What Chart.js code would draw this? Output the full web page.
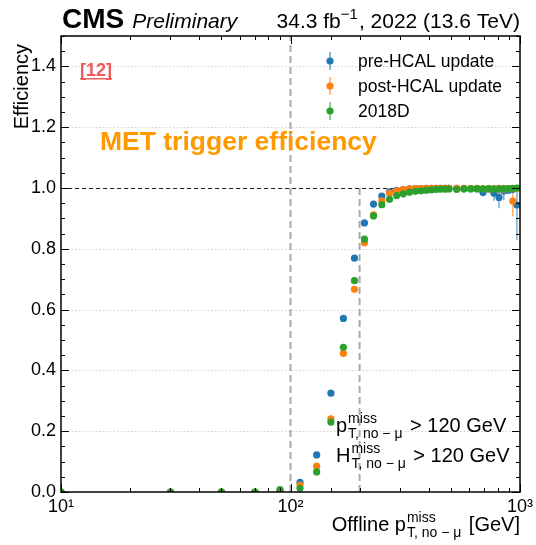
<!DOCTYPE html>
<html>
<head>
<meta charset="utf-8">
<script src="https://cdn.jsdelivr.net/npm/chart.js@4.4.0/dist/chart.umd.min.js"></script>
<style>
  html, body { margin: 0; padding: 0; background: #fff; }
  canvas { display: block; }
</style>
</head>
<body>
<canvas id="eff-chart" width="536" height="545"></canvas>
<script>
// bin centres in offline pT miss (GeV)
const ptBins = [10, 30, 50, 70, 90, 110, 130, 150, 170, 190, 210, 230, 250, 270, 290, 310, 330, 350, 370, 390,
    410, 430, 450, 470, 490, 530, 570, 610, 650, 690, 730, 770, 810, 850, 890, 930, 970];

const preHcal = [0, 0, 0, 0, 0.003, 0.032, 0.122, 0.325, 0.571, 0.769, 0.885, 0.947, 0.973, 0.987, 0.992, 0.995, 0.997, 0.998, 0.998, 0.999,
    0.999, 0.999, 0.999, 0.999, 0.999, 0.999, 0.998, 0.998, 0.997, 0.985, 0.997, 0.983, 0.969, 0.990, 0.993, 0.995, 0.944];
const postHcal = [0, 0, 0, 0, 0.003, 0.023, 0.085, 0.241, 0.456, 0.667, 0.820, 0.912, 0.958, 0.983, 0.991, 0.995, 0.997, 0.998, 0.998, 0.999,
    0.999, 0.999, 0.999, 0.999, 0.999, 0.999, 0.999, 0.998, 0.999, 0.998, 0.997, 0.998, 0.999, 0.996, 0.998, 0.957, 0.999];
const run2018D = [0, 0, 0, 0, 0.008, 0.012, 0.066, 0.230, 0.476, 0.695, 0.832, 0.908, 0.945, 0.963, 0.975, 0.981, 0.986, 0.989, 0.991, 0.993,
    0.994, 0.995, 0.996, 0.996, 0.997, 0.995, 0.997, 0.997, 0.998, 0.997, 0.998, 0.996, 0.997, 0.998, 0.998, 0.999, 1.000];

// visible error bars (only where they stick out of the markers)
const preErrBins = [690, 770, 810, 850, 970];
const preErrLow = [0.010, 0.025, 0.036, 0.030, 0.115];
const preErrHigh = [0.008, 0.012, 0.020, 0.008, 0.050];
const postErrBins = [810, 930];
const postErrLow = [0.020, 0.050];
const postErrHigh = [0.001, 0.030];

const seriesLabels = ['pre-HCAL update', 'post-HCAL update', '2018D'];
const seriesColors = ['#1f77b4', '#ff7f0e', '#2ca02c'];
const yTickStep = 0.05;
const yMajorStep = 0.2;

const FONT = '"Liberation Sans", Arial, Helvetica, sans-serif';
const MINUS = '\u2212';
const SUB = 'T, no ' + MINUS + ' \u03bc';

const toPoints = (vals) => ptBins.map((x, i) => ({ x, y: vals[i] }));
const isYMajor = (v) => Math.abs(v / yMajorStep - Math.round(v / yMajorStep)) < 1e-6;
const isXMajor = (v) => Math.abs(Math.log10(v) - Math.round(Math.log10(v))) < 1e-6;
const supDigits = { '0': '\u2070', '1': '\u00b9', '2': '\u00b2', '3': '\u00b3' };

// base + ^miss + _{T, no - mu} + tail, returns total width
const missLabel = (ctx, x, y, base, size, tail, draw) => {
    const small = Math.round(size * 0.7);
    ctx.font = `${size}px ${FONT}`;
    const wBase = ctx.measureText(base).width;
    const wTail = ctx.measureText(tail).width;
    ctx.font = `${small}px ${FONT}`;
    const wScript = Math.max(ctx.measureText('miss').width, ctx.measureText(SUB).width);
    if (draw) {
        ctx.font = `${size}px ${FONT}`;
        ctx.fillText(base, x, y);
        ctx.font = `${small}px ${FONT}`;
        ctx.fillText('miss', x + wBase + 1, y - size * 0.45);
        ctx.fillText(SUB, x + wBase + 1, y + size * 0.3);
        ctx.font = `${size}px ${FONT}`;
        ctx.fillText(tail, x + wBase + wScript + 3, y);
    }
    return wBase + wScript + 3 + wTail;
};

const errorBars = [
    { ds: 0, bins: preErrBins, lo: preErrLow, hi: preErrHigh },
    { ds: 1, bins: postErrBins, lo: postErrLow, hi: postErrHigh }
];

const decorPlugin = {
    id: 'decor',
    beforeDatasetsDraw(chart) {
        const { ctx, chartArea: a, scales: { x, y } } = chart;
        ctx.save();
        // dotted grid at major y ticks
        ctx.strokeStyle = '#c8c8c8';
        ctx.lineWidth = 0.8;
        ctx.setLineDash([1.5, 2]);
        y.ticks.forEach(t => {
            if (!isYMajor(t.value) || t.value === 0) return;
            const py = Math.round(y.getPixelForValue(t.value)) + 0.5;
            ctx.beginPath(); ctx.moveTo(a.left, py); ctx.lineTo(a.right, py); ctx.stroke();
        });
        // threshold lines
        ctx.strokeStyle = '#a9a9a9';
        ctx.lineWidth = 2;
        ctx.setLineDash([7, 4]);
        const x100 = x.getPixelForValue(100);
        ctx.beginPath(); ctx.moveTo(x100, a.bottom); ctx.lineTo(x100, a.top); ctx.stroke();
        const x200 = x.getPixelForValue(200);
        ctx.beginPath(); ctx.moveTo(x200, a.bottom); ctx.lineTo(x200, y.getPixelForValue(1)); ctx.stroke();
        // unity line
        ctx.strokeStyle = '#222';
        ctx.lineWidth = 1;
        ctx.setLineDash([4, 3]);
        const y1 = Math.round(y.getPixelForValue(1)) + 0.5;
        ctx.beginPath(); ctx.moveTo(a.left, y1); ctx.lineTo(a.right, y1); ctx.stroke();
        ctx.setLineDash([]);
        // error bars
        ctx.lineWidth = 1.5;
        errorBars.forEach(e => {
            ctx.strokeStyle = seriesColors[e.ds];
            ctx.globalAlpha = 0.6;
            const vals = chart.data.datasets[e.ds].data;
            e.bins.forEach((b, i) => {
                const p = vals.find(d => d.x === b);
                const px = x.getPixelForValue(b);
                ctx.beginPath();
                ctx.moveTo(px, y.getPixelForValue(p.y - e.lo[i]));
                ctx.lineTo(px, y.getPixelForValue(Math.min(1, p.y + e.hi[i])));
                ctx.stroke();
            });
        });
        ctx.restore();
    },
    afterDraw(chart) {
        const { ctx, chartArea: a, scales: { x, y } } = chart;
        ctx.save();
        // frame
        ctx.strokeStyle = '#000';
        ctx.lineWidth = 1.5;
        ctx.strokeRect(a.left, a.top, a.right - a.left, a.bottom - a.top);
        // inward ticks
        ctx.lineWidth = 1;
        y.ticks.forEach(t => {
            const len = isYMajor(t.value) ? 8 : 4;
            const py = Math.round(y.getPixelForValue(t.value)) + 0.5;
            ctx.beginPath();
            ctx.moveTo(a.left, py); ctx.lineTo(a.left + len, py);
            ctx.moveTo(a.right, py); ctx.lineTo(a.right - len, py);
            ctx.stroke();
        });
        x.ticks.forEach(t => {
            const len = isXMajor(t.value) ? 8 : 4;
            const px = Math.round(x.getPixelForValue(t.value)) + 0.5;
            ctx.beginPath();
            ctx.moveTo(px, a.bottom); ctx.lineTo(px, a.bottom - len);
            ctx.moveTo(px, a.top); ctx.lineTo(px, a.top + len);
            ctx.stroke();
        });

        ctx.fillStyle = '#000';
        ctx.textBaseline = 'alphabetic';
        // header
        ctx.textAlign = 'left';
        ctx.font = `bold 28px ${FONT}`;
        ctx.fillText('CMS', a.left + 1, 28);
        const cmsW = ctx.measureText('CMS').width;
        ctx.font = `italic 21px ${FONT}`;
        ctx.fillText('Preliminary', a.left + cmsW + 9, 28);
        // lumi text, right aligned
        ctx.font = `21px ${FONT}`;
        const l1 = '34.3 fb', l3 = ', 2022 (13.6 TeV)';
        const w1 = ctx.measureText(l1).width, w3 = ctx.measureText(l3).width;
        ctx.font = `15px ${FONT}`;
        const l2 = MINUS + '1';
        const w2 = ctx.measureText(l2).width;
        let lx = a.right - (w1 + w2 + w3 + 1);
        ctx.font = `21px ${FONT}`;
        ctx.fillText(l1, lx, 28);
        ctx.font = `15px ${FONT}`;
        ctx.fillText(l2, lx + w1, 19);
        ctx.font = `21px ${FONT}`;
        ctx.fillText(l3, lx + w1 + w2 + 1, 28);

        // axis titles
        ctx.save();
        ctx.translate(28, a.top + 8);
        ctx.rotate(-Math.PI / 2);
        ctx.textAlign = 'right';
        ctx.font = `20px ${FONT}`;
        ctx.fillText('Efficiency', 0, 0);
        ctx.restore();
        const tw = missLabel(ctx, 0, 0, 'Offline p', 20, ' [GeV]', false);
        missLabel(ctx, a.right - tw, 531, 'Offline p', 20, ' [GeV]', true);

        // reference tag and title
        ctx.fillStyle = '#f05a5a';
        ctx.font = `bold 18px ${FONT}`;
        ctx.fillText('[12]', 80, 76);
        const rw = ctx.measureText('[12]').width;
        ctx.fillRect(80, 78, rw, 1.5);
        ctx.fillStyle = '#ff9900';
        ctx.font = `bold 26.5px ${FONT}`;
        ctx.fillText('MET trigger efficiency', 100, 150);

        // selection annotation
        ctx.fillStyle = '#000';
        missLabel(ctx, 336, 432, 'p', 20, ' > 120 GeV', true);
        missLabel(ctx, 336, 462, 'H', 20, ' > 120 GeV', true);

        // legend
        chart.data.datasets.forEach((ds, i) => {
            const cy = 61 + i * 25;
            ctx.strokeStyle = ds.backgroundColor;
            ctx.globalAlpha = 0.7;
            ctx.lineWidth = 1.5;
            ctx.beginPath(); ctx.moveTo(330, cy - 9); ctx.lineTo(330, cy + 9); ctx.stroke();
            ctx.globalAlpha = 1;
            ctx.fillStyle = ds.backgroundColor;
            ctx.beginPath(); ctx.arc(330, cy, 3.6, 0, Math.PI * 2); ctx.fill();
            ctx.fillStyle = '#000';
            ctx.font = `17.5px ${FONT}`;
            ctx.textBaseline = 'middle';
            ctx.fillText(ds.label, 358, cy + 1);
            ctx.textBaseline = 'alphabetic';
        });
        ctx.restore();
    }
};

const makeDataset = (i, vals, order) => ({
    label: seriesLabels[i],
    data: toPoints(vals),
    backgroundColor: seriesColors[i],
    borderWidth: 0,
    pointRadius: 3.6,
    pointBorderWidth: 0,
    order,
    clip: 0
});

new Chart(document.getElementById('eff-chart'), {
    type: 'scatter',
    data: {
        datasets: [
            makeDataset(0, preHcal, 3),
            makeDataset(1, postHcal, 2),
            makeDataset(2, run2018D, 1)
        ]
    },
    options: {
        responsive: false,
        animation: false,
        devicePixelRatio: 1,
        layout: { padding: { top: 36, right: 16, left: 0, bottom: 0 } },
        plugins: { legend: { display: false }, tooltip: { enabled: false } },
        scales: {
            x: {
                type: 'logarithmic',
                min: 10,
                max: 1000,
                grid: { display: false, drawTicks: false, tickLength: 0 },
                border: { display: false },
                ticks: {
                    autoSkip: false,
                    maxRotation: 0,
                    padding: 4,
                    color: '#000',
                    font: { family: FONT, size: 18 },
                    callback: (v) => isXMajor(v)
                        ? '10' + String(Math.round(Math.log10(v))).split('').map(d => supDigits[d]).join('')
                        : ''
                },
                afterFit: (scale) => {
                    scale.height = 53;
                    scale.paddingLeft = 0;
                    scale.paddingRight = 0;
                }
            },
            y: {
                min: 0,
                max: 1.5,
                grid: { display: false, drawTicks: false, tickLength: 0 },
                border: { display: false },
                ticks: {
                    stepSize: yTickStep,
                    autoSkip: false,
                    padding: 5,
                    color: '#000',
                    font: { family: FONT, size: 18 },
                    callback: (v) => isYMajor(v) ? v.toFixed(1) : ''
                },
                afterFit: (scale) => {
                    scale.width = 61;
                    scale.paddingTop = 0;
                    scale.paddingBottom = 0;
                }
            }
        }
    },
    plugins: [decorPlugin]
});
</script>
</body>
</html>
